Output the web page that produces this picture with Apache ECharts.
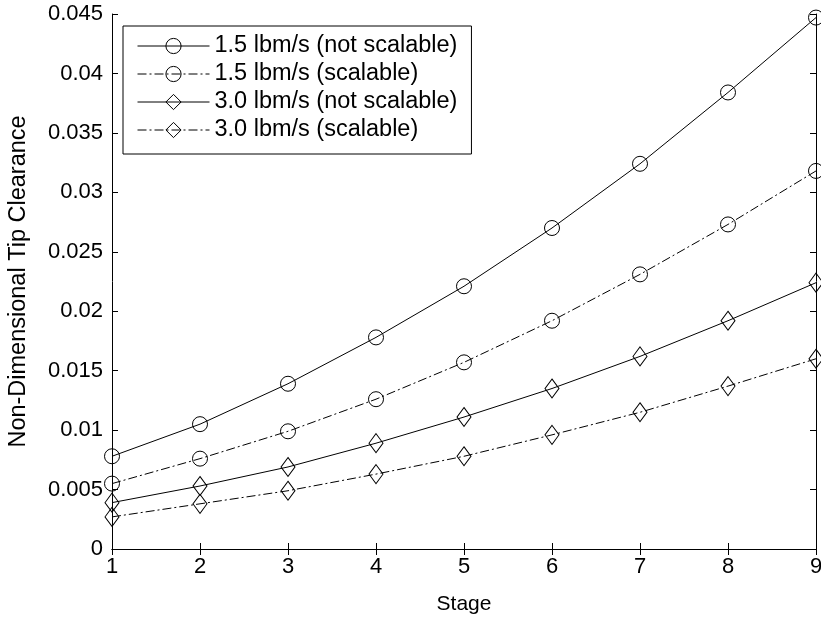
<!DOCTYPE html>
<html><head><meta charset="utf-8">
<script src="https://cdn.jsdelivr.net/npm/echarts@6/dist/echarts.min.js"></script>
<style>html,body{margin:0;padding:0;background:#fff}#c{width:821px;height:617px}</style>
</head><body><div id="c"></div>
<script>
const stages = [1,2,3,4,5,6,7,8,9];
const s15NotScalable = [0.0078,0.0105,0.0139,0.0178,0.0221,0.0270,0.0324,0.0384,0.0447];
const s15Scalable    = [0.0055,0.0076,0.0099,0.0126,0.0157,0.0192,0.0231,0.0273,0.0318];
const s30NotScalable = [0.0039,0.0053,0.0069,0.0089,0.0111,0.0135,0.0162,0.0192,0.0224];
const s30Scalable    = [0.0027,0.0038,0.0049,0.0063,0.0078,0.0096,0.0115,0.0137,0.0160];
const seriesNames = ['1.5 lbm/s (not scalable)','1.5 lbm/s (scalable)','3.0 lbm/s (not scalable)','3.0 lbm/s (scalable)'];

const font = 'Liberation Sans, Arial, sans-serif';
const dashDot = [9,3,2,3];
function mk(name, vals, sym, dashed){
  return {
    name, type:'line', xAxisIndex:0, yAxisIndex:0,
    data: stages.map((s,i)=>[s, vals[i]]),
    symbol: sym,
    symbolSize: sym==='circle' ? 15 : [14,19],
    showAllSymbol: true,
    lineStyle:{color:'#000', width:1, type: dashed ? dashDot : 'solid'},
    itemStyle:{color:'rgba(255,255,255,0)', borderColor:'#000', borderWidth:1},
    emphasis:{disabled:true},
    animation:false
  };
}
const chart = echarts.init(document.getElementById('c'));
const axisCommon = {
  axisLine:{show:true, lineStyle:{color:'#000', width:1}},
  axisTick:{show:true, inside:true, length:6, lineStyle:{color:'#000'}},
  splitLine:{show:false}
};
chart.setOption({
  animation:false,
  backgroundColor:'#fff',
  grid:{left:112, right:5, top:14, bottom:68, containLabel:false, outerBoundsMode:'none'},
  legend:{
    data: seriesNames,
    orient:'vertical', left:123, top:26,
    borderColor:'#000', borderWidth:1, padding:[8,14,12,14],
    itemWidth:72, itemHeight:19, itemGap:4,
    itemStyle:{borderWidth:1},
    lineStyle:{width:1},
    textStyle:{fontFamily:font, fontSize:23.5, lineHeight:22, color:'#000'},
    selectedMode:false
  },
  xAxis:[
    Object.assign({type:'value', min:1, max:9, interval:1, position:'bottom',
      name:'Stage', nameLocation:'middle', nameGap:45,
      nameTextStyle:{fontFamily:font, fontSize:21, color:'#000'},
      axisLabel:{fontFamily:font, fontSize:22, color:'#000', margin:7}}, axisCommon),
    Object.assign({type:'value', min:1, max:9, interval:1, position:'top',
      axisLabel:{show:false}}, axisCommon)
  ],
  yAxis:[
    Object.assign({type:'value', min:0, max:0.045, interval:0.005, position:'left',
      name:'Non-Dimensional Tip Clearance', nameLocation:'middle', nameGap:81,
      nameTextStyle:{fontFamily:font, fontSize:23.5, color:'#000'},
      axisLabel:{fontFamily:font, fontSize:22, color:'#000', margin:9,
        formatter:v=>String(parseFloat(v.toFixed(4)))}}, axisCommon),
    Object.assign({type:'value', min:0, max:0.045, interval:0.005, position:'right',
      axisLabel:{show:false}}, axisCommon)
  ],
  series:[
    mk(seriesNames[0], s15NotScalable, 'circle', false),
    mk(seriesNames[1], s15Scalable, 'circle', true),
    mk(seriesNames[2], s30NotScalable, 'diamond', false),
    mk(seriesNames[3], s30Scalable, 'diamond', true)
  ]
});
</script></body></html>
